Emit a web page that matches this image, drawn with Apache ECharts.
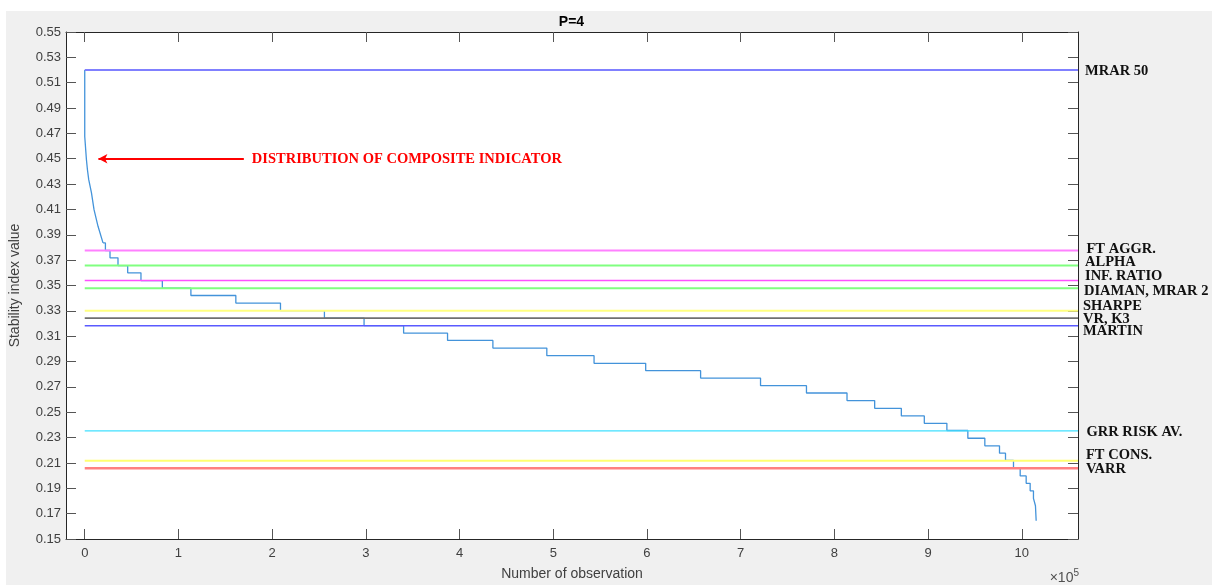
<!DOCTYPE html>
<html>
<head>
<meta charset="utf-8">
<style>html,body{margin:0;padding:0;background:#fff;}#c{width:1212px;height:586px;}</style>
<script src="https://cdn.jsdelivr.net/npm/echarts@6/dist/echarts.min.js"></script>
</head>
<body>
<div id="c"></div>
<script>
// ---- data ----
const obsX = [0, 0, 1810, 2880, 4260, 7140, 9910, 14170, 19500, 22060, 26960, 35490, 45830, 60000, 82810, 113290, 161250, 208890, 255780, 298090, 340300, 387190, 435570, 493130, 543540, 598640, 657250, 721200, 770220, 813490, 843010, 871470, 895980, 920070, 942450, 960570, 976230, 982630, 991160, 998300, 1004690, 1008950, 1012470, 1014600, 1015350];
const indexVals = [0.52, 0.4676, 0.4492, 0.4413, 0.4335, 0.4232, 0.4098, 0.3967, 0.3836, 0.3776, 0.3718, 0.3657, 0.3600, 0.3539, 0.3479, 0.3421, 0.3361, 0.3301, 0.3243, 0.3183, 0.3124, 0.3067, 0.3006, 0.2946, 0.2886, 0.2828, 0.2770, 0.2710, 0.2652, 0.2592, 0.2531, 0.2471, 0.2413, 0.2356, 0.2295, 0.2235, 0.2177, 0.2120, 0.2061, 0.1998, 0.1939, 0.1880, 0.1820, 0.1762, 0.1644];
const refNames = ['MRAR 50', 'FT AGGR.', 'ALPHA', 'INF. RATIO', 'DIAMAN, MRAR 2', 'SHARPE', 'VR, K3', 'MARTIN', 'GRR RISK AV.', 'FT CONS.', 'VARR'];
const refValues = [0.52, 0.3776, 0.3657, 0.3539, 0.3479, 0.3301, 0.3243, 0.3182, 0.2353, 0.2117, 0.2059];
const xTicks = [0, 100000, 200000, 300000, 400000, 500000, 600000, 700000, 800000, 900000, 1000000];
const arrowFrom = [169800, 0.45];
const arrowTo = [14600, 0.45];
const annotation = 'DISTRIBUTION OF COMPOSITE INDICATOR';
const titleText = 'P=4';

// ---- styles ----
const refStyles = [
  {color: '#8080ff', width: 2},
  {color: '#ff80ff', width: 2},
  {color: '#80ff80', width: 2},
  {color: '#ff50ff', width: 1.5},
  {color: '#80ff80', width: 2},
  {color: '#ffff80', width: 2},
  {color: '#707070', width: 1.8},
  {color: '#5a5aff', width: 1.6},
  {color: '#40e0ff', width: 1.3},
  {color: '#ffff70', width: 2},
  {color: '#ff8080', width: 2.5}
];
const labelPos = [
  [1085, 71.7], [1086.5, 248.8], [1085, 262.5], [1085, 276], [1084, 291.7],
  [1083, 306], [1083, 319.5], [1083, 331], [1086.5, 432.7], [1086, 455], [1086, 469.3]
];
const XMIN = -20000, XMAX = 1060000;
const axisCol = '#262626';
const sans = 'Liberation Sans, Arial, sans-serif';
const serif = 'Liberation Serif, Times New Roman, serif';

const curve = obsX.map((x, i) => [x, indexVals[i]]);
const splitAt = 8;

const series = [];
series.push({
  type: 'line', data: curve.slice(0, splitAt + 1), symbol: 'none',
  lineStyle: {color: '#4393da', width: 1.3}, z: 2, silent: true
});
series.push({
  type: 'line', data: curve.slice(splitAt), symbol: 'none', step: 'end',
  lineStyle: {color: '#4393da', width: 1.3}, z: 2, silent: true,
  markLine: {
    silent: true, animation: false,
    symbol: ['none', 'arrow'], symbolSize: [7, 9],
    lineStyle: {color: '#ff0000', width: 2, type: 'solid'},
    label: {
      show: true, position: 'start', distance: 8, formatter: annotation,
      color: '#ff0000', fontFamily: serif, fontWeight: 'bold', fontSize: 14.5
    },
    data: [[{coord: arrowFrom}, {coord: arrowTo}]]
  }
});
refValues.forEach((v, i) => {
  series.push({
    type: 'line', data: [[0, v], [XMAX, v]], symbol: 'none', silent: true, z: 3,
    lineStyle: {color: refStyles[i].color, width: refStyles[i].width}
  });
});

const graphic = [
  {type: 'rect', z: -100, shape: {x: 6, y: 11, width: 1206, height: 574}, style: {fill: '#f0f0f0'}},
  {type: 'text', x: 571.5, y: 21.7, style: {text: titleText, align: 'center', verticalAlign: 'middle',
    font: 'bold 14px ' + sans, fill: '#000'}},
  {type: 'text', x: 1079, y: 578, style: {text: '{a|×}{b|10}{c|5}', align: 'right', verticalAlign: 'middle',
    rich: {a: {fontSize: 14, fontFamily: sans, fill: '#505050'}, b: {fontSize: 14, fontFamily: sans, fill: '#505050'},
           c: {fontSize: 10, fontFamily: sans, fill: '#505050', verticalAlign: 'top', padding: [0, 0, 9, 0]}}}}
];
refNames.forEach((n, i) => {
  graphic.push({type: 'text', x: labelPos[i][0], y: labelPos[i][1],
    style: {text: n, align: 'left', verticalAlign: 'middle', font: 'bold 14.5px ' + serif, fill: '#111'}});
});

const chart = echarts.init(document.getElementById('c'), null, {renderer: 'canvas'});
chart.setOption({
  animation: false,
  backgroundColor: '#ffffff',
  grid: {left: 65, top: 32, right: 134, bottom: 46, show: true, backgroundColor: '#ffffff', borderWidth: 0},
  xAxis: [
    {type: 'value', min: XMIN, max: XMAX, position: 'bottom',
     name: 'Number of observation', nameLocation: 'middle', nameGap: 28,
     nameTextStyle: {fontFamily: sans, fontSize: 14, color: '#404040'},
     axisLine: {show: true, onZero: false, lineStyle: {color: axisCol, width: 1}},
     axisTick: {show: true, inside: true, length: 10, customValues: xTicks, lineStyle: {color: '#555'}},
     axisLabel: {show: true, customValues: xTicks, margin: 8, fontFamily: sans, fontSize: 13, color: '#404040',
       formatter: v => String(Math.round(v / 100000))},
     splitLine: {show: false}},
    {type: 'value', min: XMIN, max: XMAX, position: 'top',
     axisLine: {show: true, onZero: false, lineStyle: {color: axisCol, width: 1}},
     axisTick: {show: true, inside: true, length: 10, customValues: xTicks, lineStyle: {color: '#555'}},
     axisLabel: {show: false}, splitLine: {show: false}}
  ],
  yAxis: [
    {type: 'value', min: 0.15, max: 0.55, interval: 0.02, position: 'left',
     name: 'Stability index value', nameLocation: 'middle', nameGap: 44,
     nameTextStyle: {fontFamily: sans, fontSize: 14, color: '#404040'},
     axisLine: {show: true, onZero: false, lineStyle: {color: axisCol, width: 1}},
     axisTick: {show: true, inside: true, length: 10, lineStyle: {color: '#555'}},
     axisLabel: {show: true, margin: 5, fontFamily: sans, fontSize: 13, color: '#404040',
       formatter: v => v.toFixed(2)},
     splitLine: {show: false}},
    {type: 'value', min: 0.15, max: 0.55, interval: 0.02, position: 'right',
     axisLine: {show: true, onZero: false, lineStyle: {color: axisCol, width: 1}},
     axisTick: {show: true, inside: true, length: 10, lineStyle: {color: '#555'}},
     axisLabel: {show: false}, splitLine: {show: false}}
  ],
  series: series,
  graphic: graphic
});
</script>
</body>
</html>
